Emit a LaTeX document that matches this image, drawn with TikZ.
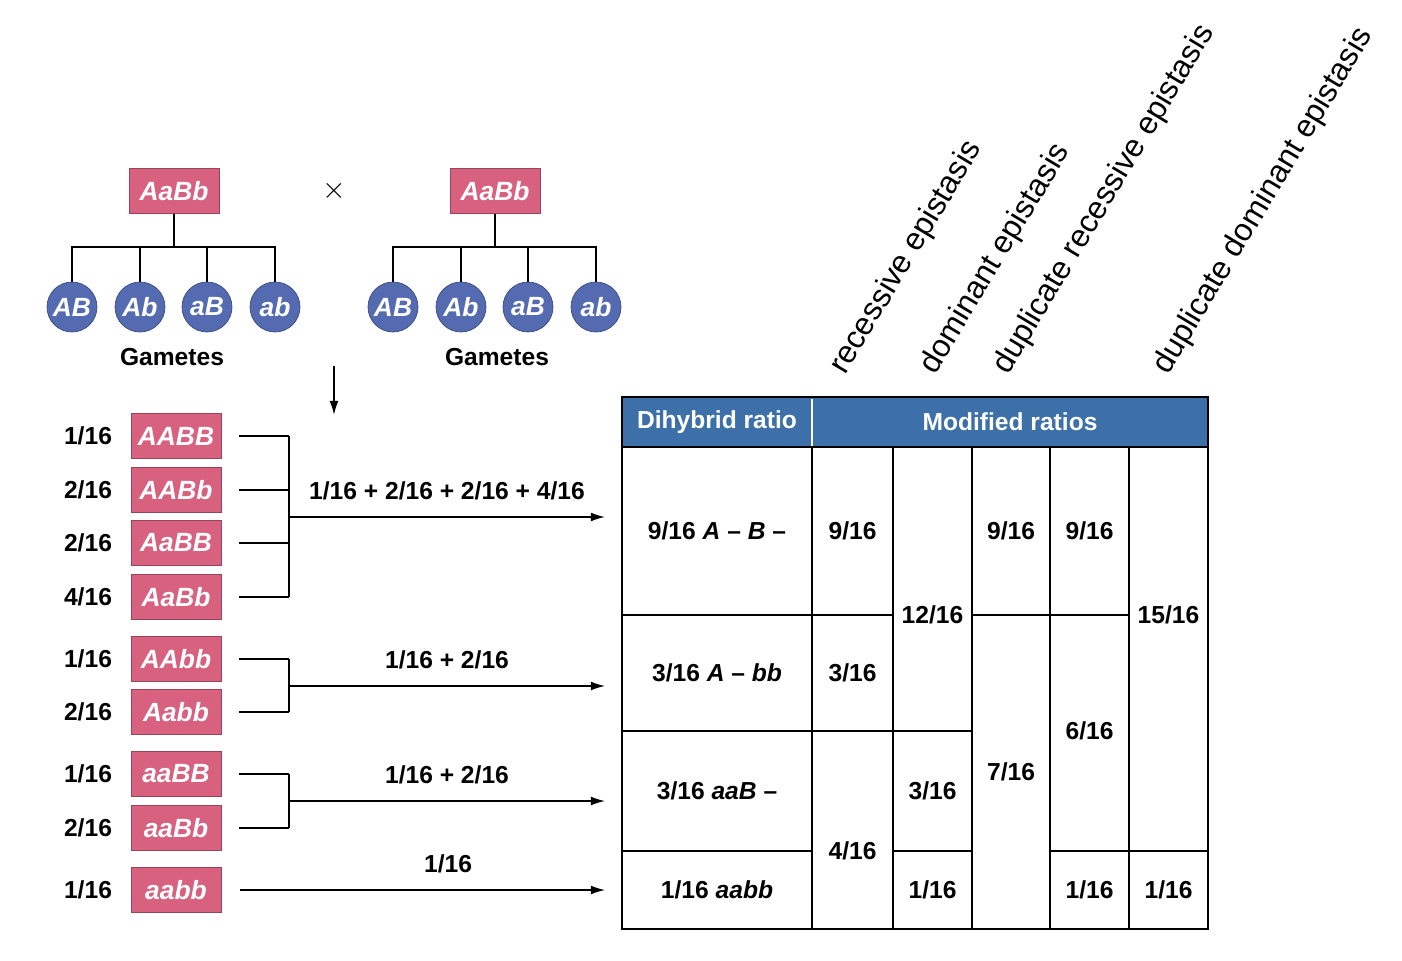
\documentclass[tikz,border=0pt]{standalone}
\usepackage{fontspec}
\setmainfont{Liberation Sans}
\usetikzlibrary{arrows.meta}
\definecolor{genopink}{rgb}{0.85, 0.38, 0.50}
\definecolor{gameteblue}{rgb}{0.33, 0.42, 0.70}
\definecolor{headblue}{rgb}{0.24, 0.44, 0.66}
\tikzset{geno/.style={draw=genopink!70!black, fill=genopink, minimum width=1.8cm, minimum height=0.9cm, text=white, font=\fontsize{15}{17}\selectfont\bfseries\itshape}}
\tikzset{gamete/.style={draw=gameteblue!70!black, circle, fill=gameteblue, minimum size=1.0cm, inner sep=0pt, text=white, font=\fontsize{15}{17}\selectfont\bfseries\itshape}}
\tikzset{lbl/.style={font=\fontsize{14}{16}\selectfont\bfseries}}
\tikzset{arr/.style={-{Latex[length=8pt,width=5pt]}, line width=0.8pt}}

\begin{document}
\begin{tikzpicture}[x=0.02cm, y=-0.02cm]
        \useasboundingbox (0,0) rectangle (1402,960);

        % parents and gametes
        \node[geno] (P1) at (174, 191) {AaBb};
        \node[geno] (P2) at (495, 191) {AaBb};
        \node[font=\fontsize{18}{20}\selectfont] (X) at (334, 191) {$\times$};
        \foreach \g/\x in {AB/72, Ab/140, aB/207, ab/275} {
            \node[gamete] (L\g) at (\x, 307) {\g};
            \draw[thick] (P1.south) |- (\x, 247) -- (L\g.north);
        }
        \foreach \g/\x in {AB/393, Ab/461, aB/528, ab/596} {
            \node[gamete] (R\g) at (\x, 307) {\g};
            \draw[thick] (P2.south) |- (\x, 247) -- (R\g.north);
        }
        \node[lbl] (G1) at (172, 357) {Gametes};
        \node[lbl] (G2) at (497, 357) {Gametes};
        \coordinate (Dtop) at (334, 366);
        \coordinate (Dbot) at (334, 415);
        \draw[arr] (Dtop) -- (Dbot);

        % offspring genotypes
        \foreach \n/\f/\g/\y in {1/1/AABB/436, 2/2/AABb/490, 3/2/AaBB/543, 4/4/AaBb/597, 5/1/AAbb/659, 6/2/Aabb/712, 7/1/aaBB/774, 8/2/aaBb/828, 9/1/aabb/890} {
            \node[lbl] (F\n) at (88, \y) {\f/16};
            \node[geno] (O\n) at (176, \y) {\g};
        }
        \foreach \n in {1,2,3,4} \draw[thick] ([xshift=0.35cm]O\n.east) -- (289, 0 |- O\n.east);
        \draw[thick] (289, 436) -- (289, 597);
        \foreach \n in {5,6} \draw[thick] ([xshift=0.35cm]O\n.east) -- (289, 0 |- O\n.east);
        \draw[thick] (289, 659) -- (289, 712);
        \foreach \n in {7,8} \draw[thick] ([xshift=0.35cm]O\n.east) -- (289, 0 |- O\n.east);
        \draw[thick] (289, 774) -- (289, 828);

        % table
        \fill[headblue] (622, 397) rectangle (1208, 447);
        \draw[thick] (622, 397) rectangle (1208, 447);
        \draw[white, thick] (812, 399) -- (812, 446);
        \node[lbl, text=white] (Hd) at (717, 422) {Dihybrid ratio};
        \node[lbl, text=white] (Hm) at (1010, 422) {Modified ratios};

        \foreach \xa/\ya/\xb/\yb/\ty/\t in {
            622/447/812/615/531/{9/16 \textit{A} -- \textit{B} --},
            622/615/812/731/673/{3/16 \textit{A} -- \textit{bb}},
            622/731/812/851/791/{3/16 \textit{aaB} --},
            622/851/812/929/890/{1/16 \textit{aabb}},
            812/447/893/615/531/{9/16}, 812/615/893/731/673/{3/16}, 812/731/893/929/851/{4/16},
            893/447/972/731/615/{12/16}, 893/731/972/851/791/{3/16}, 893/851/972/929/890/{1/16},
            972/447/1050/615/531/{9/16}, 972/615/1050/929/772/{7/16},
            1050/447/1129/615/531/{9/16}, 1050/615/1129/851/731/{6/16}, 1050/851/1129/929/890/{1/16},
            1129/447/1208/851/615/{15/16}, 1129/851/1208/929/890/{1/16}} {
            \draw[thick] (\xa, \ya) rectangle (\xb, \yb);
            \node[lbl] at ({(\xa+\xb)/2}, \ty) {\t};
        }
        \coordinate (T1) at (605, 517);
        \coordinate (T2) at (605, 686);
        \coordinate (T3) at (605, 801);
        \coordinate (T4) at (605, 890);

        % arrows into table
        \coordinate (B1) at (289, 517);
        \coordinate (B2) at (289, 686);
        \coordinate (B3) at (289, 801);
        \coordinate (B4) at (240, 890);
        \draw[arr] (B1) -- (T1) node[lbl, pos=0.5, above=6pt] {1/16 + 2/16 + 2/16 + 4/16};
        \draw[arr] (B2) -- (T2) node[lbl, midway, above=6pt] {1/16 + 2/16};
        \draw[arr] (B3) -- (T3) node[lbl, midway, above=6pt] {1/16 + 2/16};
        \draw[arr] (B4) -- (T4) node[lbl, pos=0.57, above=6pt] {1/16};

        % column headings
        \foreach \x/\t in {845/recessive epistasis, 935/dominant epistasis, 1008/duplicate recessive epistasis, 1168/duplicate dominant epistasis}
            \node[font=\fontsize{18}{20}\selectfont, rotate=59, anchor=base west, inner sep=0pt] at (\x, 376) {\t};
    \end{tikzpicture}
\end{document}
